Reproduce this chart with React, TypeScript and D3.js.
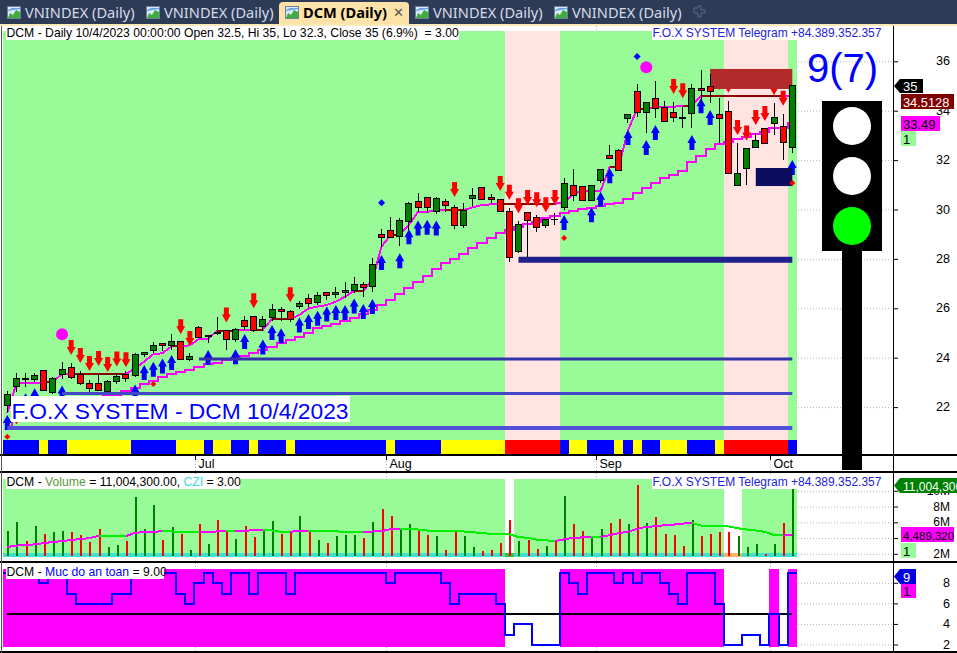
import React from "react";
import * as d3 from "d3";

const opens = [22.06,22.83,23.16,23.11,23.49,22.58,23.31,23.61,23.33,22.96,22.96,22.64,23.04,23.33,23.31,24.14,24.29,24.58,24.49,24.66,23.93,25.23,24.87,25.04,25.09,24.74,25.51,25.67,25.28,25.62,25.96,25.88,26.07,26.4,26.25,26.65,26.55,26.63,26.71,26.97,26.88,28.99,29.16,28.9,29.51,30.33,30.49,29.91,30.33,30.09,29.35,30.44,30.9,30.49,30.41,29.93,28.29,29.89,29.68,29.35,29.61,30.08,30.98,30.94,30.36,31.17,32.19,32.4,33.68,34.78,33.93,34.5,34.14,33.93,33.73,33.88,34.9,34.99,33.85,33.97,30.96,31.67,32.5,33.29,33.49,33.35,32.5];
const highs = [22.65,23.37,23.37,23.39,23.49,23.22,23.83,23.77,23.46,23.1,23.33,23.1,23.39,23.46,24.18,24.24,24.62,24.61,24.96,24.66,24.18,25.28,24.92,25.63,25.12,25.19,25.69,25.69,25.69,26.17,26.04,25.93,26.31,26.58,26.67,26.66,26.86,27.07,27.25,27.08,28.02,29.2,29.7,29.64,30.29,30.66,30.52,30.49,30.41,30.18,30.26,30.86,30.9,30.63,30.41,30.05,29.54,29.89,29.78,29.6,29.85,31.26,31.63,30.94,31.0,31.63,32.6,32.45,33.85,35.1,34.34,35.19,34.39,34.35,34.16,35.1,35.65,35.5,34.5,34.39,32.68,32.48,33.08,33.29,34.3,33.87,35];
const lows = [21.8,22.62,22.8,23.03,22.68,22.53,23.12,23.12,22.88,22.62,22.67,22.62,22.93,23.03,23.23,24.04,24.18,24.29,24.31,23.93,23.88,24.78,24.6,24.92,24.31,24.65,25.12,25.05,25.1,25.5,25.5,25.46,25.96,26.07,26.13,26.34,26.4,26.4,26.6,26.47,26.67,28.5,28.83,28.52,29.17,29.91,29.87,29.82,29.91,29.21,29.27,30.14,30.41,30.25,29.91,27.88,28.23,28.06,29.1,29.24,29.37,29.98,30.36,30.36,30.36,31.06,32.03,31.56,33.52,33.76,33.11,33.72,33.56,33.56,33.31,33.31,34.32,34.32,32.68,31.44,30.96,30.99,32.48,32.7,33.0,32.0,32.3];
const closes = [22.49,23.16,23.13,23.26,22.68,23.16,23.53,23.2,22.95,22.76,22.68,23.04,23.25,23.17,24.14,24.22,24.5,24.5,24.66,23.93,24.05,24.82,24.9,25.01,24.74,25.15,25.28,25.11,25.55,25.96,25.86,25.55,26.2,26.19,26.53,26.53,26.65,26.73,26.97,26.84,27.78,28.86,28.86,29.56,30.25,30.07,30.07,30.45,30.16,29.35,29.97,30.57,30.41,30.4,29.91,28.05,29.4,29.55,29.28,29.6,29.61,31.06,30.56,30.36,30.98,31.63,32.07,31.61,33.85,33.92,34.34,34.11,33.56,33.72,33.68,34.9,34.81,34.77,33.68,31.46,31.46,32.48,32.8,32.7,33.73,32.72,35];

const fastStop = [21.76,22.96,22.97,22.97,22.99,23.03,23.34,23.34,23.34,23.34,23.34,23.34,23.34,23.34,23.57,23.84,24.14,24.18,24.46,24.46,24.5,24.76,24.76,25.1,25.1,25.1,25.12,25.13,25.13,25.57,25.57,25.57,25.73,26.0,26.07,26.13,26.27,26.47,26.7,26.7,27.15,28.5,28.97,28.97,29.37,29.91,29.91,29.95,29.98,29.98,29.98,30.09,30.18,30.21,30.24,30.24,30.24,30.24,30.24,30.24,30.24,30.25,30.66,30.72,30.75,30.75,31.73,31.73,33.2,34.07,34.07,34.16,34.16,34.16,34.2,34.2,34.6,34.6,34.6,34.6,34.6,34.6,34.6,34.6,34.6,34.6,34.6];
const flatSpans = [[4,5],[7,13],[18,19],[23,25],[27,28],[29,31],[38,39],[42,43],[48,50],[54,60],[66,67],[69,70],[74,75],[76,85]];
const slowStop = [21.21,21.48,21.61,21.75,21.88,21.95,22.02,22.15,22.29,22.36,22.42,22.49,22.49,22.67,22.76,22.93,23.07,23.2,23.34,23.42,23.5,23.64,23.74,23.8,23.91,23.97,24.07,24.18,24.31,24.45,24.61,24.72,24.82,25.01,25.19,25.3,25.37,25.5,25.59,25.77,25.93,26.13,26.34,26.58,26.84,27.08,27.32,27.61,27.85,28.01,28.2,28.46,28.66,28.85,29.06,29.17,29.28,29.41,29.51,29.67,29.74,29.87,29.95,30.01,30.05,30.14,30.21,30.28,30.43,30.68,30.88,31.08,31.26,31.4,31.57,31.94,32.18,32.46,32.65,32.75,32.85,32.95,33.04,33.15,33.31,33.31,33.49];

const upBars = [0,2,3,6,14,15,16,17,18,22,25,26,28,29,30,32,33,34,35,36,37,38,39,40,41,43,44,45,46,47,61,64,65,66,68,70,71,75,76,77,86];
const upTips = [21.68,22.56,22.76,22.87,22.92,23.7,23.84,23.97,24.11,24.31,24.34,24.96,24.74,25.32,25.19,25.63,25.77,25.9,26.07,26.13,26.13,26.4,26.17,26.38,28.16,28.23,29.2,29.55,29.58,29.55,29.78,30.09,30.72,31.67,33.22,32.81,33.42,33.02,34.5,34.03,32.0];
const downBars = [1,7,8,9,10,11,12,13,19,20,24,27,31,49,54,55,56,57,58,59,60,73,74,78,79,80,81,82,83,84,85];
const downTips = [21.3,24.11,23.79,23.46,23.66,23.42,23.64,23.61,24.95,24.47,25.43,26.0,26.24,30.51,30.75,30.39,29.85,30.18,30.09,29.89,30.18,34.68,34.5,34.84,34.73,33.02,32.79,33.42,33.58,34.63,34.2];

const blueDiamonds = [[41,30.27],[69,36.19]];
const redDiamonds = [[61,28.85],[16,22.94],[0,20.8],[86,31.07]];
const bigCircles = [[6,24.95],[70,35.76]];

const levelLines = [
  { from: 56, level: 27.97, width: 6, color: "#20208c" },
  { from: 21, level: 23.95, width: 3, color: "#3333aa" },
  { from: 6, level: 22.55, width: 3, color: "#4646c8" },
  { from: 0, level: 21.15, width: 4, color: "#5050d8" },
];
const zones = [
  { from: 77, hi: 35.69, lo: 34.88, color: "#b22a2a" },
  { from: 82, hi: 31.68, lo: 30.95, color: "#0d0d60" },
];

const volumes = [4.9,6.15,3.64,5.65,4.64,4.77,5.02,4.77,4.39,3.51,5.15,2.89,3.14,3.64,9.29,5.15,8.28,3.77,5.52,4.64,2.51,5.9,3.26,6.4,5.02,3.89,5.65,4.14,4.9,6.28,4.64,4.77,6.9,5.02,3.77,3.39,4.27,4.39,4.39,4.02,6.15,7.78,6.9,5.27,5.9,4.9,4.39,4.27,2.51,5.02,4.27,2.89,2.38,2.51,3.39,6.4,3.64,3.77,2.64,3.01,3.77,9.41,5.9,5.02,4.14,5.15,6.03,6.53,5.9,10.8,6.03,6.78,4.64,4.39,3.01,6.4,4.27,4.52,4.77,4.77,4.27,2.89,3.26,2.0,3.26,6.03,11.0];
const volumeMA = [2.93,3.1,3.18,3.26,3.43,3.56,3.68,3.81,3.93,4.06,4.35,4.31,4.31,4.31,4.73,4.81,4.85,4.94,4.9,4.85,4.81,4.81,4.85,4.9,4.94,4.94,4.98,5.06,5.1,5.02,4.85,4.85,4.98,5.02,4.94,4.94,4.94,4.81,4.81,4.81,4.9,4.94,5.19,5.27,5.27,5.15,5.02,4.94,4.94,4.94,4.9,4.81,4.69,4.6,4.56,4.56,4.18,4.1,3.85,3.77,3.68,3.89,4.1,4.14,4.18,4.18,4.44,4.69,4.85,5.23,5.48,5.56,5.69,5.77,5.9,5.98,5.65,5.56,5.56,5.56,5.31,5.15,5.02,4.85,4.44,4.39,4.49];
const volumeGapBars = [55,79,80];

const safety = [9,9,9,9,8,9,9,7,6,6,6,6,7,7,9,9,9,9,9,7,6,8,9,8,7,9,9,7,9,9,9,7,9,9,9,9,9,9,9,9,9,9,8,9,9,9,9,9,8,6,7,7,7,7,6,3,4,4,2,2,2,9,8,7,9,9,9,8,9,8,9,9,8,7,6,9,9,9,6,2,2,3,3,2,5,2,9];

const priceTicks = [36,34,32,30,28,26,24,22];
const volumeTicks = [10,8,6,4,2];
const safetyTicks = [8,6,4,2];
const monthLabels = ["Jul","Aug","Sep","Oct"];
const monthBars = [21,42,65,84];
const tabLabels = ["VNINDEX (Daily)","VNINDEX (Daily)","DCM (Daily)","VNINDEX (Daily)","VNINDEX (Daily)"];
const tabXs = [7,146,285,415,554];

const n = closes.length;
const x = d3.scaleLinear().domain([0, n - 1]).range([7.3, 792.3]);
const yP = d3.scaleLinear().domain([36, 22]).range([61.3, 407.1]);
const yV = d3.scaleLinear().domain([10, 2]).range([491.3, 554.3]);
const yS = d3.scaleLinear().domain([9, 2]).range([573, 645]);
const step = x(1) - x(0);
const snap = (v: number) => Math.round(v - 0.5) + 0.5;

const SANS = "'Liberation Sans', Arial, sans-serif";
const GREEN_BG = "#98fb98";
const PINK_BG = "#ffe4e1";
const MAG = "#ff00ff";

const fastLine = d3.line<number>().x((_, i) => x(i)).y((d) => yP(d));
const slowLine = d3.line<number>().x((_, i) => x(i)).y((d) => yP(d)).curve(d3.curveStep);

const upArrow = "M0,0L4.5,8L2.5,8L2.5,15L-2.5,15L-2.5,8L-4.5,8Z";
const downArrow = "M0,0L4.5,-8L2.5,-8L2.5,-15L-2.5,-15L-2.5,-8L-4.5,-8Z";

function Label({ x: lx, y, w, h, children, size = 12.2 }: any) {
  return (
    <g>
      <rect x={lx} y={y} width={w} height={h} fill="#fff" />
      <text x={lx + 0.5} y={y + h - 3} fontSize={size} fontFamily={SANS} style={{ whiteSpace: "pre" }}>
        {children}
      </text>
    </g>
  );
}

function Tag({ x0, y, w, h = 14, fill, color, text, pointer = false, size = 13 }: any) {
  const d = pointer
    ? `M${x0},${y + h / 2}L${x0 + 6},${y}L${x0 + w},${y}L${x0 + w},${y + h}L${x0 + 6},${y + h}Z`
    : `M${x0},${y}H${x0 + w}V${y + h}H${x0}Z`;
  return (
    <g>
      <path d={d} fill={fill} />
      <text x={x0 + (pointer ? 9 : 2)} y={y + h - 2.5} fontSize={size} fontFamily={SANS} fill={color}>
        {text}
      </text>
    </g>
  );
}

function TabIcon({ px }: { px: number }) {
  return (
    <g>
      <rect x={px + 0.5} y={6.5} width={13} height={12} fill="#dbe8f6" stroke="#6d7f99" />
      <path d={`M${px + 1},18L${px + 3},13L${px + 6},15L${px + 9},10L${px + 13},12V18Z`} fill="#3fae3f" />
      <path d={`M${px + 1},10L${px + 5},8L${px + 13},8V9L${px + 1},11Z`} fill="#6aa5e0" />
    </g>
  );
}

export default function App() {
  const ribbon = (s: number) => (s === 9 ? "#0000ff" : s >= 6 ? "#ffff00" : "#ff0000");
  const lowBody = (i: number) => Math.min(opens[i], closes[i]);
  const safetyPath = d3.line<number>().x((_, i) => x(i) - step / 2).y((d) => yS(d)).curve(d3.curveStepAfter)([...safety, safety[n - 1]]) || "";
  return (
    <svg width={957} height={653} style={{ position: "fixed", left: 0, top: 0, background: "#fff" }}>
      {/* tab strip */}
      <rect x={0} y={0} width={957} height={24} fill="#2d3b57" />
      <rect x={0} y={24} width={957} height={2} fill="#fde9b8" />
      <path d="M279,24V6Q279,2 283,2H405Q409,2 409,6V24Z" fill="#fde3a8" />
      {tabLabels.map((t, i) => (
        <g key={i}>
          <TabIcon px={tabXs[i]} />
          <text
            x={tabXs[i] + 18}
            y={18}
            fontSize={14.6}
            fontFamily="'Noto Sans', sans-serif"
            fontWeight={i === 2 ? 700 : 400}
            fill={i === 2 ? "#000" : "#d5dcea"}
          >
            {t}
          </text>
        </g>
      ))}
      <text x={393} y={17} fontSize={13} fontFamily={SANS} fill="#555">✕</text>
      <path d="M698,8H702V6H705V10H709V13H705V17H702V13H698Z" transform="translate(-4,0)" stroke="#5c6a84" fill="none" />

      {/* dotted grid */}
      <g stroke="#b5b5b5" strokeDasharray="1 2">
        {priceTicks.map((t) => <line key={t} x1={798} x2={893} y1={yP(t) + 0.5} y2={yP(t) + 0.5} />)}
        {volumeTicks.map((t) => <line key={t} x1={798} x2={893} y1={yV(t)} y2={yV(t)} />)}
        {safetyTicks.map((t) => <line key={t} x1={798} x2={893} y1={yS(t)} y2={yS(t)} />)}
        {monthBars.map((b) => {
          const px = snap(x(b) - step / 2 + 0.6);
          return <line key={b} x1={px} x2={px} y1={26} y2={651} />;
        })}
      </g>

      {/* panes backgrounds */}
      {safety.map((s, i) => (
        <rect key={i} x={x(i) - step / 2} y={31} width={step + 0.4} height={409} fill={s <= 5 ? PINK_BG : GREEN_BG} shapeRendering="crispEdges" />
      ))}
      {safety.map((s, i) => (
        <rect key={i} x={x(i) - step / 2} y={440} width={step + 0.4} height={14} fill={ribbon(s)} shapeRendering="crispEdges" />
      ))}
      {volumes.map((_, i) =>
        volumeGapBars.includes(i) ? null : (
          <rect key={i} x={x(i) - step / 2} y={479} width={step + 0.4} height={74} fill={GREEN_BG} shapeRendering="crispEdges" />
        ),
      )}
      {volumes.map((_, i) => (
        <rect key={i} x={x(i) - step / 2} y={553} width={step + 0.4} height={4}
          fill={i === 55 ? "#39bf39" : i === 79 || i === 80 ? "#ffb060" : "#40e0d0"} shapeRendering="crispEdges" />
      ))}
      {safety.map((s, i) =>
        s >= 5 ? (
          <rect key={i} x={x(i) - step / 2} y={569} width={step + 0.4} height={78} fill={MAG} shapeRendering="crispEdges" />
        ) : null,
      )}

      {/* stops */}
      <path d={slowLine(slowStop) || ""} fill="none" stroke={MAG} strokeWidth={2} shapeRendering="crispEdges" />
      <path d={fastLine(fastStop) || ""} fill="none" stroke={MAG} strokeWidth={2} shapeRendering="crispEdges" />
      {flatSpans.map(([a, b]) => (
        <line key={a} x1={x(a)} x2={x(b)} y1={yP(fastStop[b])} y2={yP(fastStop[b])} stroke="#8b0000" strokeWidth={2} shapeRendering="crispEdges" />
      ))}

      {/* arrows */}
      {upBars.map((b, i) => (
        <path key={b} d={upArrow} transform={`translate(${x(b)},${yP(upTips[i])})`} fill="#0000ff" />
      ))}
      {downBars.map((b, i) => (
        <path key={b} d={downArrow} transform={`translate(${x(b)},${yP(downTips[i])})`} fill="#ff0000" />
      ))}

      {/* levels and zones */}
      {levelLines.map((l) => (
        <line key={l.level} x1={x(l.from)} x2={x(n - 1)} y1={yP(l.level)} y2={yP(l.level)} stroke={l.color} strokeWidth={l.width} />
      ))}
      {zones.map((z) => (
        <rect key={z.hi} x={x(z.from)} y={yP(z.hi)} width={x(n - 1) - x(z.from)} height={yP(z.lo) - yP(z.hi)} fill={z.color} />
      ))}

      {/* candles */}
      <g shapeRendering="crispEdges">
        {closes.map((c, i) => {
          const cx = snap(x(i));
          const top = yP(Math.max(opens[i], c));
          const bot = yP(lowBody(i));
          const flat = Math.abs(opens[i] - c) < 0.005;
          return (
            <g key={i}>
              <line x1={cx} x2={cx} y1={yP(highs[i])} y2={yP(lows[i])} stroke="#000" />
              {flat ? (
                <line x1={cx - 3.5} x2={cx + 3.5} y1={snap(top)} y2={snap(top)} stroke="#000" />
              ) : (
                <rect x={cx - 3} y={snap(top)} width={6} height={Math.max(1, Math.round(bot - top))}
                  fill={c > opens[i] ? "#008000" : "#ff0000"} stroke="#000" />
              )}
            </g>
          );
        })}
      </g>

      {/* markers */}
      {blueDiamonds.map(([b, v]) => (
        <path key={b} d="M0,-3.5L3.5,0L0,3.5L-3.5,0Z" transform={`translate(${x(b)},${yP(v)})`} fill="#0000ff" />
      ))}
      {redDiamonds.map(([b, v]) => (
        <path key={b} d="M0,-3L3,0L0,3L-3,0Z" transform={`translate(${x(b)},${yP(v)})`} fill="#ff0000" />
      ))}
      {bigCircles.map(([b, v]) => (
        <circle key={b} cx={x(b)} cy={yP(v)} r={6} fill={MAG} />
      ))}

      {/* volume */}
      {volumes.map((v, i) => (
        <rect key={i} x={Math.round(x(i))} y={yV(v)} width={2} height={556 - yV(v)}
          fill={closes[i] >= opens[i] && i !== 2 && i !== 23 && i !== 60 && i !== 74 ? "#008000" : "#ff0000"} shapeRendering="crispEdges" />
      ))}
      {volumeMA.slice(1).map((v, i) => (
        <line key={i} x1={x(i)} x2={x(i + 1)} y1={yV(volumeMA[i])} y2={yV(v)} stroke={v > volumeMA[i] ? MAG : "#00f000"} strokeWidth={2} shapeRendering="crispEdges" />
      ))}

      {/* safety */}
      <line x1={x(0)} x2={x(n - 1)} y1={yS(5)} y2={yS(5)} stroke="#000" strokeWidth={2} shapeRendering="crispEdges" />
      <path d={safetyPath} fill="none" stroke="#0000ff" strokeWidth={2} shapeRendering="crispEdges" />

      {/* frame */}
      <g stroke="#000" strokeWidth={1.5} shapeRendering="crispEdges">
        <line x1={0} x2={957} y1={455} y2={455} />
        <line x1={0} x2={957} y1={472} y2={472} />
        <line x1={0} x2={957} y1={562} y2={562} />
        <line x1={0} x2={957} y1={652} y2={652} />
        <line x1={893.5} x2={893.5} y1={26} y2={653} strokeWidth={1} />
        <line x1={1.5} x2={1.5} y1={26} y2={653} stroke="#555" strokeWidth={1} />
      </g>
      {monthBars.map((b, i) => {
        const px = snap(x(b) - step / 2 + 0.6);
        return (
          <g key={b}>
            <line x1={px} x2={px} y1={455} y2={460} stroke="#000" shapeRendering="crispEdges" />
            <text x={px + 3} y={468} fontSize={12.5} fontFamily={SANS} fill="#000">{monthLabels[i]}</text>
          </g>
        );
      })}

      {/* axes */}
      {priceTicks.map((t) => (
        <g key={t}>
          <line x1={893} x2={898} y1={yP(t) + 0.5} y2={yP(t) + 0.5} stroke="#000" />
          <text x={950} y={yP(t) + 4} textAnchor="end" fontSize={12.6} fontFamily={SANS} fill="#000">{t}</text>
        </g>
      ))}
      {volumeTicks.map((t) => (
        <g key={t}>
          <line x1={893} x2={898} y1={yV(t)} y2={yV(t)} stroke="#000" />
          <text x={950} y={yV(t) + 3.5} textAnchor="end" fontSize={12} fontFamily={SANS} fill="#000">{t}M</text>
        </g>
      ))}
      {safetyTicks.map((t) => (
        <g key={t}>
          <line x1={893} x2={898} y1={yS(t)} y2={yS(t)} stroke="#000" />
          <text x={950} y={yS(t) + 4} textAnchor="end" fontSize={12.6} fontFamily={SANS} fill="#000">{t}</text>
        </g>
      ))}

      {/* value tags */}
      <Tag x0={894} y={79} w={29} h={14} fill="#000" color="#fff" text="35" pointer />
      <Tag x0={901} y={94} w={53} h={15} fill="#800000" color="#fff" text="34.5128" size={12.8} />
      <Tag x0={901} y={116} w={39} h={15} fill={MAG} color="#000" text="33.49" />
      <Tag x0={901} y={131} w={15} h={15} fill={GREEN_BG} color="#000" text="1" />
      <Tag x0={894} y={478} w={63} h={15} fill="#008000" color="#fff" text="11,004,300" pointer size={12} />
      <Tag x0={901} y={527} w={53} h={15} fill={MAG} color="#000" text="4,489,320" size={11.5} />
      <Tag x0={901} y={543} w={15} h={15} fill={GREEN_BG} color="#000" text="1" />
      <Tag x0={894} y={569} w={22} h={15} fill="#0000e0" color="#fff" text="9" pointer />
      <Tag x0={901} y={584} w={15} h={14} fill={MAG} color="#000" text="1" />

      {/* traffic light */}
      <text x={807} y={82} fontSize={40} fontFamily={SANS} fill="#0000ff">9(7)</text>
      <rect x={822} y={101} width={60} height={150} fill="#000" />
      <rect x={842} y={251} width={20} height={219} fill="#000" />
      <circle cx={852} cy={126} r={19} fill="#fff" />
      <circle cx={852} cy={176} r={19} fill="#fff" />
      <circle cx={852} cy={226} r={19} fill="#00ff00" />

      {/* pane captions */}
      <Label x={6} y={26} w={453} h={14}>{"DCM - Daily 10/4/2023 00:00:00 Open 32.5, Hi 35, Lo 32.3, Close 35 (6.9%)  = 3.00"}</Label>
      <Label x={652} y={26} w={232} h={14} size={12}>
        <tspan fill="#2222dd">F.O.X SYSTEM Telegram +84.389.352.357</tspan>
      </Label>
      <Label x={11} y={396} w={339} h={26} size={22.8}>
        <tspan fill="#0000ff">F.O.X SYSTEM - DCM 10/4/2023</tspan>
      </Label>
      <Label x={6} y={476} w={234} h={13}>
        DCM - <tspan fill="#5a9a3a">Volume</tspan> = 11,004,300.00, <tspan fill="#40d8d8">CZI</tspan> = 3.00
      </Label>
      <Label x={652} y={476} w={232} h={13} size={12}>
        <tspan fill="#2222dd">F.O.X SYSTEM Telegram +84.389.352.357</tspan>
      </Label>
      <Label x={6} y={566} w={158} h={13}>
        DCM - <tspan fill="#0000ff">Muc do an toan</tspan> = 9.00
      </Label>
    </svg>
  );
}
